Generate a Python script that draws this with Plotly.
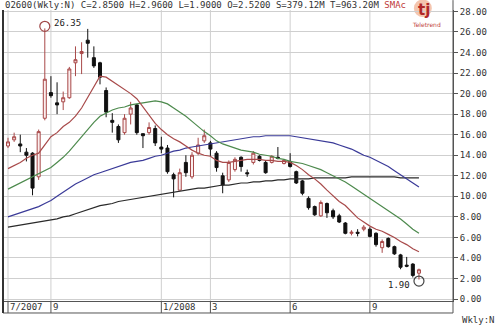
import plotly.graph_objects as go

# ---- data (weekly candles, index 0 = first week of 7/2007) ----
open_ = [14.9, 15.5, 15.1, 14.3, 14.2, 11.9, 17.6, 20.1, 19.1, 19.2,
         19.6, 23.0, 23.9, 25.2, 23.5, 23.0, 20.3, 17.4, 16.8, 16.2,
         18.0, 18.9, 16.1, 16.2, 16.6, 14.8, 14.7, 12.1, 10.6, 13.3,
         11.9, 14.2, 15.4, 15.2, 14.2, 12.0, 11.6, 12.6, 13.8, 12.3,
         13.3, 13.9, 13.3, 13.3, 13.8, 13.2, 13.4, 12.4, 11.5, 9.8,
         9.0, 8.1, 9.3, 8.6, 8.1, 7.4, 6.4, 6.5, 6.8, 6.8,
         6.4, 5.0, 5.9, 5.1, 4.3, 3.3, 3.4, 2.52]
high = [15.7, 16.2, 16.0, 14.7, 14.3, 16.5, 26.35, 21.7, 21.1, 20.2,
        22.6, 24.6, 25.0, 26.3, 24.6, 23.1, 20.6, 18.1, 17.0, 18.0,
        19.2, 19.0, 16.1, 17.2, 16.9, 15.8, 15.0, 12.3, 12.7, 14.0,
        14.3, 15.7, 16.5, 15.4, 14.4, 12.3, 13.5, 13.8, 13.9, 12.6,
        14.4, 14.0, 13.5, 14.0, 14.8, 13.6, 14.2, 12.5, 11.6, 10.0,
        9.1, 9.6, 9.4, 8.8, 8.3, 7.5, 6.7, 6.8, 7.2, 7.0,
        6.5, 5.8, 6.0, 5.2, 4.4, 4.1, 3.5, 2.96]
low = [14.7, 15.3, 14.3, 13.4, 10.1, 11.6, 17.4, 19.6, 18.0, 18.4,
       19.5, 21.7, 21.9, 23.5, 22.5, 20.9, 17.7, 16.2, 15.2, 16.0,
       17.0, 16.0, 14.7, 16.0, 14.9, 14.2, 12.2, 9.9, 10.6, 11.9,
       11.7, 14.0, 15.2, 13.9, 12.4, 10.3, 11.4, 12.4, 12.4, 11.9,
       13.1, 13.4, 12.2, 13.2, 13.6, 13.1, 12.8, 11.2, 10.1, 8.7,
       8.1, 8.0, 7.9, 7.8, 7.4, 6.3, 6.2, 6.1, 6.6, 6.0,
       5.1, 4.5, 5.0, 4.3, 2.9, 3.1, 2.1, 1.90]
close = [15.3, 15.8, 14.9, 14.0, 10.8, 16.3, 21.4, 19.8, 18.9, 19.6,
         22.4, 23.3, 24.1, 24.9, 22.7, 21.6, 18.2, 17.2, 15.5, 17.6,
         18.6, 16.2, 15.9, 16.7, 15.2, 14.6, 12.4, 11.7, 12.3, 12.3,
         14.0, 15.0, 15.9, 14.6, 12.8, 11.1, 13.3, 13.6, 12.9, 12.2,
         14.2, 13.5, 12.3, 13.9, 13.7, 13.5, 12.9, 11.3, 10.3, 8.9,
         8.2, 9.4, 8.4, 8.0, 7.5, 6.4, 6.5, 6.4, 7.0, 6.1,
         5.3, 5.6, 5.1, 4.4, 3.1, 3.2, 2.3, 2.85]

ma_red = [12.7, 13.0, 13.3, 13.7, 14.0, 14.2, 15.0, 15.8, 16.2, 16.8,
          17.2, 17.8, 18.6, 19.6, 20.6, 21.7, 21.6, 21.2, 20.8, 20.4,
          20.0, 19.5, 18.7, 17.9, 17.1, 16.5, 16.0, 15.6, 15.3, 14.9,
          14.5, 14.2, 14.0, 13.9, 13.5, 13.3, 13.3, 13.4, 13.5, 13.6,
          13.6, 13.6, 13.5, 13.5, 13.4, 13.4, 13.3, 13.0, 12.6, 12.1,
          11.7, 11.2, 10.6, 10.0, 9.5, 9.1, 8.5, 7.9, 7.5, 7.1,
          6.8, 6.6, 6.3, 6.0, 5.6, 5.3, 4.9, 4.6]
ma_green = [10.7, 11.0, 11.3, 11.6, 11.9, 12.2, 12.5, 12.8, 13.3, 13.8,
            14.4, 15.1, 15.9, 16.6, 17.2, 17.8, 18.1, 18.4, 18.6, 18.7,
            18.9, 19.0, 19.1, 19.2, 19.3, 19.2, 19.0, 18.6, 18.2, 17.8,
            17.3, 16.8, 16.3, 15.9, 15.4, 15.1, 14.9, 14.7, 14.5, 14.4,
            14.3, 14.1, 14.0, 13.9, 13.7, 13.6, 13.4, 13.3, 13.2, 13.0,
            12.8, 12.6, 12.3, 12.0, 11.7, 11.4, 11.0, 10.6, 10.2, 9.8,
            9.4, 9.0, 8.6, 8.2, 7.8, 7.3, 6.8, 6.4]
ma_blue = [8.0, 8.2, 8.4, 8.6, 8.8, 9.0, 9.3, 9.6, 10.0, 10.4,
           10.8, 11.2, 11.5, 11.8, 12.1, 12.3, 12.5, 12.7, 12.9, 13.1,
           13.3, 13.4, 13.5, 13.7, 13.9, 14.0, 14.2, 14.4, 14.5, 14.7,
           14.8, 14.9, 15.0, 15.1, 15.2, 15.3, 15.4, 15.5, 15.6, 15.7,
           15.8, 15.8, 15.9, 15.9, 15.9, 15.9, 15.9, 15.8, 15.7, 15.6,
           15.5, 15.4, 15.3, 15.2, 15.0, 14.8, 14.6, 14.3, 14.0, 13.8,
           13.5, 13.2, 12.9, 12.5, 12.1, 11.7, 11.3, 10.9]
ma_black = [7.0, 7.1, 7.2, 7.3, 7.4, 7.5, 7.6, 7.7, 7.8, 8.0,
            8.1, 8.3, 8.5, 8.7, 8.9, 9.1, 9.2, 9.3, 9.5, 9.6,
            9.7, 9.8, 9.9, 10.0, 10.1, 10.2, 10.3, 10.4, 10.5, 10.6,
            10.7, 10.8, 10.8, 10.9, 11.0, 11.1, 11.1, 11.2, 11.3, 11.3,
            11.4, 11.4, 11.5, 11.5, 11.6, 11.6, 11.7, 11.7, 11.7, 11.7,
            11.8, 11.8, 11.8, 11.8, 11.8, 11.8, 11.9, 11.9, 11.9, 11.9,
            11.9, 11.9, 11.9, 11.9, 11.8, 11.8, 11.8, 11.8]

tick_pos = [0, 7, 25, 33, 46, 59]
tick_text = ["7/2007", "9", "1/2008", "3", "6", "9"]
y_ticks = list(range(0, 30, 2))

header = ("02600(Wkly:N) C=2.8500 H=2.9600 L=1.9000 O=2.5200 "
          "S=379.12M T=963.20M <span style='color:#c03a3a'>SMAc</span>")

x = list(range(len(close)))
MONO = "DejaVu Sans Mono"
GRID = "#cfcfcf"
AX = "#555555"

fig = go.Figure()

for ys, col in [(ma_black, "#2a2a2a"), (ma_blue, "#3a3a98"),
                (ma_green, "#4d8a4d"), (ma_red, "#a84a4a")]:
    fig.add_trace(go.Scatter(x=x, y=ys, mode="lines",
                             line=dict(color=col, width=1.2),
                             hoverinfo="skip", showlegend=False))

fig.add_trace(go.Candlestick(
    x=x, open=open_, high=high, low=low, close=close,
    increasing=dict(line=dict(color="#a84848", width=1), fillcolor="#fbeeee"),
    decreasing=dict(line=dict(color="#111111", width=1), fillcolor="#111111"),
    whiskerwidth=0, showlegend=False, hoverinfo="skip"))

# high / low markers
fig.add_trace(go.Scatter(x=[6], y=[26.55], mode="markers",
                         marker=dict(symbol="circle-open", size=10, color="#a04848",
                                     line=dict(color="#a04848", width=1.2)),
                         hoverinfo="skip", showlegend=False))
fig.add_trace(go.Scatter(x=[67], y=[1.75], mode="markers",
                         marker=dict(symbol="circle-open", size=10, color="#444444",
                                     line=dict(color="#444444", width=1.2)),
                         hoverinfo="skip", showlegend=False))

ann = [
    dict(x=7.1, y=26.9, xref="x", yref="y", text="26.35", showarrow=False,
         xanchor="left", yanchor="middle", font=dict(family=MONO, size=9, color="#222")),
    dict(x=65.9, y=1.4, xref="x", yref="y", text="1.90", showarrow=False,
         xanchor="right", yanchor="middle", font=dict(family=MONO, size=9, color="#222")),
    dict(x=0, y=1.017, xref="paper", yref="paper", text=header, showarrow=False,
         xanchor="left", yanchor="middle", font=dict(family=MONO, size=9, color="#333")),
    dict(x=1.0156, y=-0.065, xref="paper", yref="paper", text="Wkly:N", showarrow=False,
         xanchor="left", yanchor="middle", font=dict(family=MONO, size=9, color="#333")),
    dict(x=0.935, y=1.0, xref="paper", yref="paper", text="<b>tj</b>", showarrow=False,
         xanchor="center", yanchor="middle", font=dict(family="DejaVu Sans", size=15, color="#b02828")),
    dict(x=0.94, y=0.951, xref="paper", yref="paper", text="Teletrend", showarrow=False,
         xanchor="center", yanchor="middle", font=dict(family="DejaVu Sans", size=6, color="#c04040")),
]
for p, t in zip(tick_pos, tick_text):
    ann.append(dict(x=p, y=-0.0206, xref="x", yref="paper", text=t, showarrow=False,
                    xanchor="left", yanchor="middle", xshift=0,
                    font=dict(family=MONO, size=9, color="#333")))

shapes = [
    dict(type="circle", xref="paper", yref="paper", x0=0.913, x1=0.953,
         y0=0.976, y1=1.036, fillcolor="rgba(235,150,110,0.55)", line=dict(width=0), layer="below"),
    dict(type="line", xref="paper", yref="paper", x0=0, x1=1, y0=-0.0412, y1=-0.0412,
         line=dict(color=AX, width=1)),
    dict(type="line", xref="paper", yref="paper", x0=0, x1=0, y0=-0.0412, y1=1.0,
         line=dict(color="#333", width=2)),
    dict(type="line", xref="paper", yref="paper", x0=1, x1=1, y0=-0.0412, y1=1.034,
         line=dict(color=AX, width=1)),
]
for p in tick_pos:
    shapes.append(dict(type="line", xref="x", yref="paper", x0=p, x1=p, y0=-0.0412, y1=0,
                       line=dict(color=AX, width=1)))
    shapes.append(dict(type="line", xref="x", yref="paper", x0=p, x1=p, y0=0, y1=1,
                       line=dict(color=GRID, width=1), layer="below"))

fig.update_layout(
    width=500, height=325,
    margin=dict(l=3, r=47, t=10, b=24),
    paper_bgcolor="white", plot_bgcolor="white",
    showlegend=False,
    annotations=ann, shapes=shapes,
    xaxis=dict(range=[-0.815, 72.55], showgrid=False, zeroline=False,
               showticklabels=False, ticks="", showline=True, linecolor=AX,
               linewidth=1, rangeslider=dict(visible=False), fixedrange=True),
    yaxis=dict(range=[-0.19, 28.14], side="right", tickvals=y_ticks,
               ticktext=[f"{v:.2f}" for v in y_ticks],
               showgrid=True, gridcolor=GRID, gridwidth=1, zeroline=False,
               ticks="outside", ticklen=4, tickcolor=AX,
               showline=True, linecolor=AX, linewidth=1,
               tickfont=dict(family=MONO, size=9, color="#333"), fixedrange=True),
)

fig.write_html("out.html")
